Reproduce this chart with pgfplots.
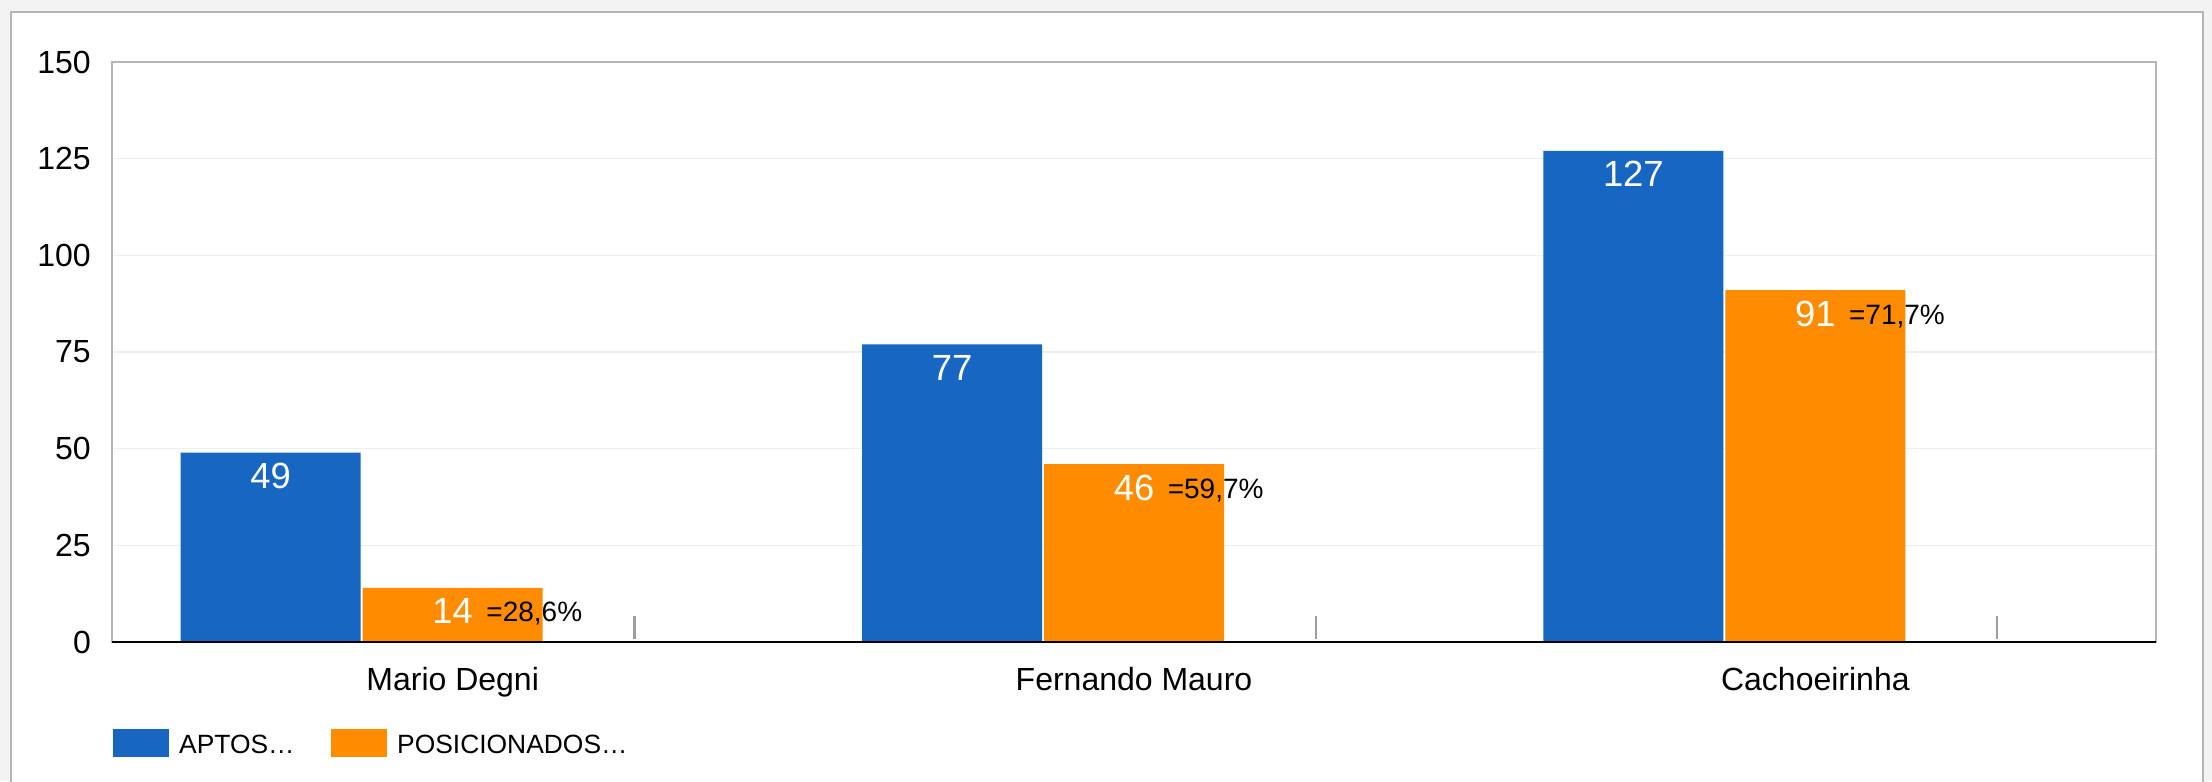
\documentclass[border=0pt]{standalone}
\usepackage{fontspec}
\setmainfont{Liberation Sans}
\usepackage{pgfplots}
\pgfplotsset{compat=1.18}
\definecolor{aptos}{HTML}{1766C1}
\definecolor{posic}{HTML}{FF8C00}
\definecolor{pagebg}{HTML}{F3F3F3}
\definecolor{framec}{HTML}{B6B6B6}
\definecolor{gridc}{HTML}{EEEEEE}
\definecolor{markc}{HTML}{9E9E9E}

\begin{document}
\begin{tikzpicture}
% page and white panel
\fill[pagebg] (-28pt,-34.75pt) rectangle (525pt,160.5pt);
\useasboundingbox (-28pt,-34.75pt) rectangle (525pt,160.5pt);
\clip (-28pt,-34.75pt) rectangle (525pt,160.5pt);
\filldraw[fill=white, draw=framec, line width=0.4pt] (-25.25pt,-60pt) rectangle (522.75pt,157.5pt);

\begin{axis}[
    at={(0,0)}, anchor=south west,
    scale only axis, width=511pt, height=145pt,
    xmin=-0.5, xmax=2.5, ymin=0, ymax=150,
    xtick={0,1,2},
    xticklabels={Mario Degni, Fernando Mauro, Cachoeirinha},
    ytick={0,25,...,150},
    major tick length=0pt,
    axis line style={draw=framec, line width=0.45pt},
    ymajorgrids, grid style={gridc, line width=0.4pt},
    /pgf/number format/assume math mode=true,
    tick label style={font=\fontsize{8}{9.6}\selectfont},
    yticklabel style={anchor=east, inner sep=0pt, xshift=-5.1pt},
    xticklabel style={anchor=base, inner sep=0pt, yshift=-12pt},
    clip=false,
    legend style={at={(rel axis cs:0,0)}, anchor=west, yshift=-25.5pt,
        draw=none, fill=none, inner sep=0pt, legend columns=2,
        font=\fontsize{6.6}{8}\selectfont, nodes={inner sep=0pt},
        /tikz/every odd column/.append style={column sep=2.6pt}},
]
% APTOS (bars sit left of the category centre)
\addplot[ybar, bar width=0.2642, bar shift=0, fill=aptos, draw=none,
    legend image code/.code={\fill[aptos] (0pt,-2.5pt) rectangle (14pt,4.6pt);},
    nodes near coords,
    every node near coord/.append style={white, font=\fontsize{9.1}{11}\selectfont,
        anchor=base, inner sep=0pt, yshift=-9pt}]
    coordinates {(-0.2671,49) (0.7329,77) (1.7329,127)};
% POSICIONADOS
\addplot[ybar, bar width=0.2642, bar shift=0, fill=posic, draw=none,
    legend image code/.code={\fill[posic] (0pt,-2.5pt) rectangle (14pt,4.6pt);},
    nodes near coords,
    every node near coord/.append style={white, font=\fontsize{9.1}{11}\selectfont,
        anchor=base, inner sep=0pt, yshift=-9pt}]
    coordinates {(0,14) (1,46) (2,91)};
% share of APTOS that are POSICIONADOS
\addplot[draw=none, no markers, forget plot, nodes near coords,
    point meta=explicit symbolic,
    every node near coord/.append style={black, font=\fontsize{7}{8.4}\selectfont,
        anchor=base west, inner sep=0pt, yshift=-8.5pt}]
    coordinates {(0.0484,14) [=28,6\%] (1.0484,46) [=59,7\%] (2.0484,91) [=71,7\%]};
% small stubs of the empty third series
\addplot[markc, line width=0.55pt, forget plot] coordinates {(0.267,0.8) (0.267,6.7)};
\addplot[markc, line width=0.55pt, forget plot] coordinates {(1.267,0.8) (1.267,6.7)};
\addplot[markc, line width=0.55pt, forget plot] coordinates {(2.267,0.8) (2.267,6.7)};
% baseline
\addplot[black, line width=0.65pt, forget plot] coordinates {(-0.5,0) (2.5,0)};
\legend{\makebox[37.9pt][l]{APTOS…}, POSICIONADOS…}
\end{axis}
\end{tikzpicture}
\end{document}
